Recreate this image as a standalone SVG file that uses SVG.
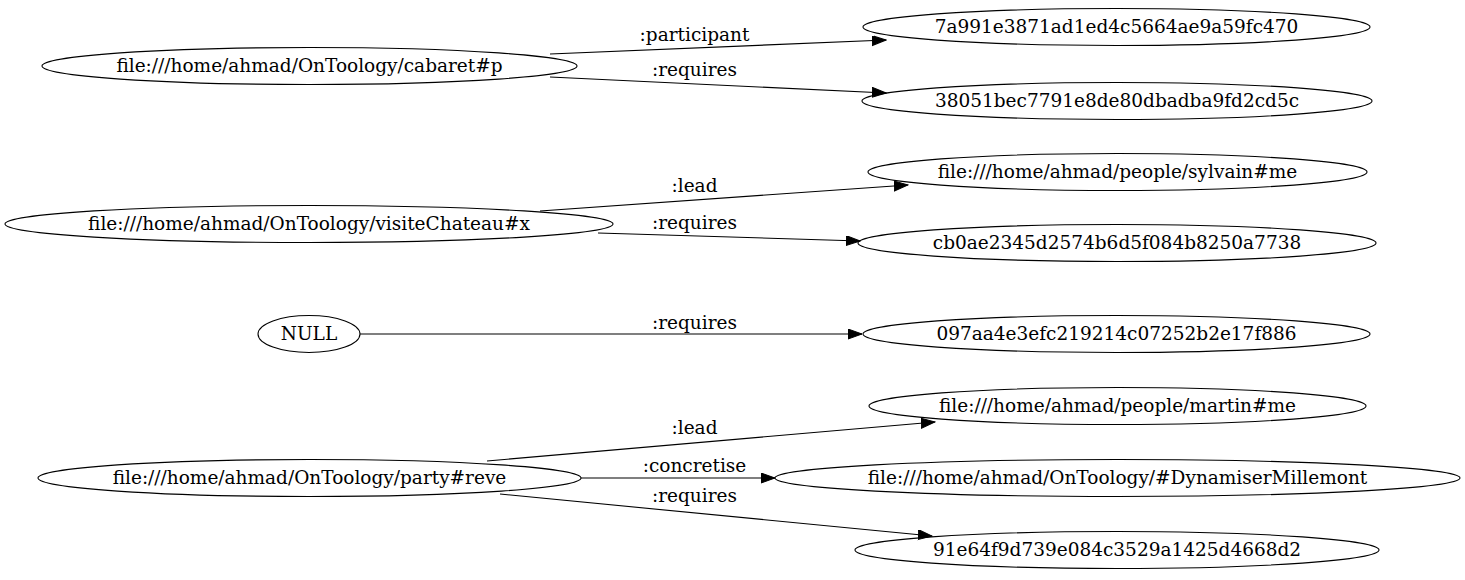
<svg xmlns="http://www.w3.org/2000/svg" width="1465" height="580" viewBox="0 0 1465 580">
<style>
.n ellipse{fill:none;stroke:#000;stroke-width:1.1}
text{font-family:"DejaVu Serif","Liberation Serif",serif;font-size:18.5px;fill:#000;text-anchor:middle}
.e line{stroke:#000;stroke-width:1.1;marker-end:url(#ah)}
</style>
<defs>
<marker id="ah" markerUnits="userSpaceOnUse" markerWidth="15" markerHeight="11" refX="14" refY="5" orient="auto" viewBox="0 0 15 11">
<path d="M0,0 L14,5 L0,10 Z" fill="#000" stroke="#000" stroke-width="1"/>
</marker>
</defs>
<rect width="1465" height="580" fill="#fff"/>
<g id="n_cabaret" class="n"><ellipse cx="309.5" cy="66" rx="267.5" ry="18.5"/><text x="309.5" y="72">file:///home/ahmad/OnToology/cabaret#p</text></g>
<g id="n_7a991" class="n"><ellipse cx="1116.5" cy="27" rx="253.5" ry="18.5"/><text x="1116.5" y="33">7a991e3871ad1ed4c5664ae9a59fc470</text></g>
<g id="n_38051" class="n"><ellipse cx="1117" cy="101" rx="255" ry="18.5"/><text x="1117" y="107">38051bec7791e8de80dbadba9fd2cd5c</text></g>
<g id="n_visite" class="n"><ellipse cx="309" cy="224" rx="304" ry="18.5"/><text x="309" y="230">file:///home/ahmad/OnToology/visiteChateau#x</text></g>
<g id="n_sylvain" class="n"><ellipse cx="1117.5" cy="172" rx="249.5" ry="18.5"/><text x="1117.5" y="178">file:///home/ahmad/people/sylvain#me</text></g>
<g id="n_cb0ae" class="n"><ellipse cx="1117" cy="243" rx="259" ry="18.5"/><text x="1117" y="249">cb0ae2345d2574b6d5f084b8250a7738</text></g>
<g id="n_null" class="n"><ellipse cx="309" cy="334" rx="51" ry="18.5"/><text x="309" y="340">NULL</text></g>
<g id="n_097aa" class="n"><ellipse cx="1116.5" cy="334" rx="253.5" ry="18.5"/><text x="1116.5" y="340">097aa4e3efc219214c07252b2e17f886</text></g>
<g id="n_martin" class="n"><ellipse cx="1117.5" cy="406" rx="248.5" ry="18.5"/><text x="1117.5" y="412">file:///home/ahmad/people/martin#me</text></g>
<g id="n_party" class="n"><ellipse cx="309.5" cy="478" rx="271.5" ry="18.5"/><text x="309.5" y="484">file:///home/ahmad/OnToology/party#reve</text></g>
<g id="n_dyn" class="n"><ellipse cx="1117.5" cy="478" rx="342.5" ry="18.5"/><text x="1117.5" y="484">file:///home/ahmad/OnToology/#DynamiserMillemont</text></g>
<g id="n_91e64" class="n"><ellipse cx="1117" cy="550" rx="262" ry="18.5"/><text x="1117" y="556">91e64f9d739e084c3529a1425d4668d2</text></g>
<g id="edges" class="e">
<line x1="550" y1="54" x2="886" y2="40"/><text x="694.5" y="41">:participant</text>
<line x1="550" y1="77" x2="886" y2="93"/><text x="694.5" y="76">:requires</text>
<line x1="540" y1="211" x2="908" y2="185"/><text x="694.5" y="192">:lead</text>
<line x1="598" y1="233" x2="860" y2="241"/><text x="694.5" y="229">:requires</text>
<line x1="360" y1="334" x2="862" y2="334"/><text x="694.5" y="329">:requires</text>
<line x1="487" y1="461" x2="935" y2="422"/><text x="694.5" y="434">:lead</text>
<line x1="581" y1="478" x2="775" y2="478"/><text x="694.5" y="472">:concretise</text>
<line x1="500" y1="494" x2="932" y2="536"/><text x="694.5" y="502">:requires</text>
</g>
</svg>
